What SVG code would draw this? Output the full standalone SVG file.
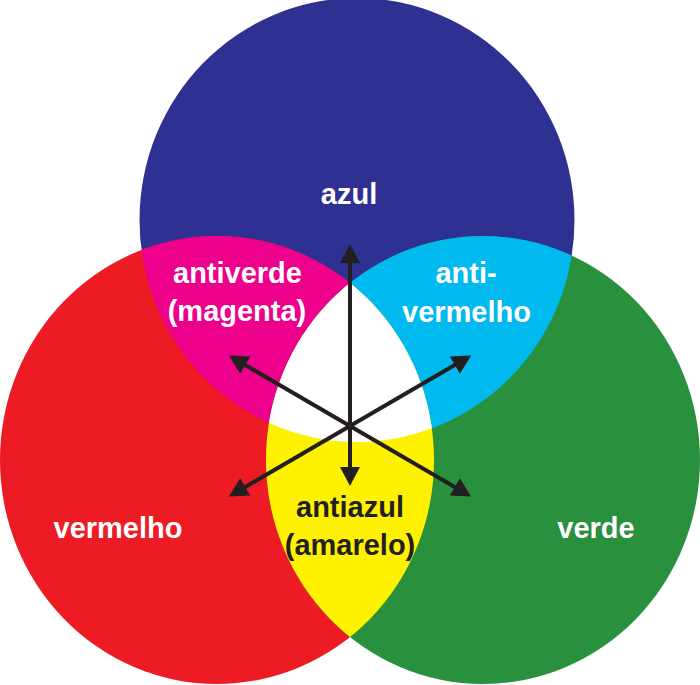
<svg xmlns="http://www.w3.org/2000/svg" width="700" height="685" viewBox="0 0 700 685">
  <defs>
    <style>
      .lbl { font-family: "Liberation Sans", Arial, sans-serif; font-weight: bold; font-size: 29px; text-anchor: middle; }
      .w { fill: #FFFFFF; }
      .k { fill: #231F20; }
      .arrow { stroke: #231F20; stroke-width: 4; fill: none; marker-start: url(#head); marker-end: url(#head); }
    </style>
    <ellipse id="shapeB" cx="357" cy="220" rx="217.5" ry="222"/>
    <ellipse id="shapeR" cx="217" cy="460" rx="217" ry="224"/>
    <ellipse id="shapeG" cx="483" cy="460" rx="217" ry="224"/>
    <clipPath id="clipB"><use href="#shapeB"/></clipPath>
    <clipPath id="clipR"><use href="#shapeR"/></clipPath>
    <clipPath id="clipG"><use href="#shapeG"/></clipPath>
    <marker id="head" viewBox="0 -10 20 20" refX="1" refY="0" markerWidth="20" markerHeight="20" markerUnits="userSpaceOnUse" orient="auto-start-reverse">
      <path d="M0,-10 L19,0 L0,10 z" fill="#231F20"/>
    </marker>
  </defs>
  <rect width="700" height="685" fill="#FFFFFF"/>

  <g id="azul">
    <use href="#shapeB" fill="#2E3192"/>
    <text class="lbl w" x="349" y="204">azul</text>
  </g>
  <g id="vermelho">
    <use href="#shapeR" fill="#ED1C24"/>
    <text class="lbl w" x="118" y="538">vermelho</text>
  </g>
  <g id="verde">
    <use href="#shapeG" fill="#29903D"/>
    <text class="lbl w" x="596" y="538">verde</text>
  </g>
  <g id="antiverde">
    <use href="#shapeB" fill="#EC008C" clip-path="url(#clipR)"/>
    <text class="lbl w" x="237.5" y="283">antiverde</text>
    <text class="lbl w" x="237" y="321">(magenta)</text>
  </g>
  <g id="antivermelho">
    <use href="#shapeB" fill="#00B9EF" clip-path="url(#clipG)"/>
    <text class="lbl w" x="466" y="283">anti-</text>
    <text class="lbl w" x="466.5" y="322">vermelho</text>
  </g>
  <g id="antiazul">
    <use href="#shapeG" fill="#FFF200" clip-path="url(#clipR)"/>
    <text class="lbl k" x="350" y="517">antiazul</text>
    <text class="lbl k" x="350" y="555">(amarelo)</text>
  </g>
  <g id="branco">
    <g clip-path="url(#clipR)">
      <use href="#shapeG" fill="#FFFFFF" clip-path="url(#clipB)"/>
    </g>
  </g>

  <g id="connectors">
    <line class="arrow" x1="350" y1="262" x2="350" y2="468"/>
    <line class="arrow" x1="244.4" y1="364.6" x2="455.6" y2="487.4"/>
    <line class="arrow" x1="244.4" y1="487.4" x2="455.6" y2="364.6"/>
  </g>
</svg>
